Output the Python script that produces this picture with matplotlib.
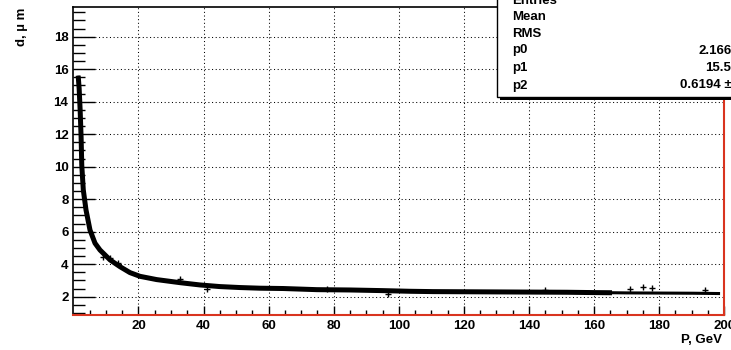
import matplotlib
matplotlib.use("Agg")
import matplotlib.pyplot as plt
from matplotlib.patches import Rectangle
import numpy as np

# ---- data ----
momentum = [1.5, 1.8, 2.1, 2.4, 2.6, 3.07, 3.9, 5.13, 6.67, 8.2, 11.3, 14.3,
            17.4, 20.5, 25.6, 32.8, 38.9, 45.0, 51.2, 57.3, 64.5, 74.8, 85.0,
            95.2, 103.4, 110.5, 120.9, 131.0, 141.3, 151.6, 159.7, 165.5,
            170.0, 180.2, 190.4, 198.7]
mean_d = [15.6, 14.8, 13.5, 11.8, 10.1, 8.57, 7.34, 6.10, 5.29, 4.87, 4.26, 3.85,
          3.48, 3.25, 3.05, 2.86, 2.72, 2.62, 2.56, 2.52, 2.50, 2.43, 2.41,
          2.37, 2.33, 2.31, 2.30, 2.29, 2.28, 2.27, 2.25, 2.24,
          2.23, 2.22, 2.21, 2.19]
band_end = 165.5

point_p = [9.2, 11.3, 13.8, 32.8, 41.0, 96.8, 171.0, 175.1, 177.7, 194.0, 145.0, 78.0]
point_d = [4.45, 4.38, 4.07, 3.07, 2.50, 2.15, 2.46, 2.58, 2.52, 2.41, 2.40, 2.47]

x_major = [20, 40, 60, 80, 100, 120, 140, 160, 180, 200]
y_major = [2, 4, 6, 8, 10, 12, 14, 16, 18]
x_range = (0, 200)
y_range = (0.87, 19.81)

stat_names = ["Entries", "Mean", "RMS", "p0", "p1", "p2"]
stat_values = ["", "", "", "2.166", "15.5", "0.6194 \u00b1"]

x_title = "P, GeV"
y_title = "d, \u00b5 m"

# ---- figure ----
W, H = 731, 350
plt.rcParams['font.family'] = ['Liberation Sans', 'DejaVu Sans']
plt.rcParams['font.weight'] = 'bold'
fig = plt.figure(figsize=(W / 100, H / 100), dpi=100)
fig.patch.set_facecolor('white')

L, R, T, B = 73.3, 724.3, 7.3, 315.0
ax = fig.add_axes([L / W, 1 - B / H, (R - L) / W, (B - T) / H])
ax.set_xlim(*x_range)
ax.set_ylim(*y_range)

FS = 9.5
red = '#d9341f'
for s in ['left', 'top']:
    ax.spines[s].set_color('black')
    ax.spines[s].set_linewidth(1.2)
for s in ['bottom', 'right']:
    ax.spines[s].set_color(red)
    ax.spines[s].set_linewidth(1.5)

ax.set_xticks(x_major)
ax.set_xticks(np.arange(5, 200, 5), minor=True)
ax.set_yticks(y_major)
ax.set_yticks(np.arange(1.0, 19.6, 0.5), minor=True)
ax.tick_params(axis='x', which='major', direction='in', length=6.5, width=1.0,
               color='black', labelsize=FS, pad=3.5)
ax.tick_params(axis='x', which='minor', direction='in', length=3.6, width=1.0,
               color='black')
ax.tick_params(axis='y', which='major', direction='in', length=15.8, width=1.0,
               color='black', labelsize=FS, pad=3.5)
ax.tick_params(axis='y', which='minor', direction='in', length=8.6, width=1.0,
               color='black')
for lab in ax.get_xticklabels() + ax.get_yticklabels():
    lab.set_fontweight('bold')
    lab.set_clip_on(False)

ax.grid(True, which='major', color='black', linestyle=(0, (1, 2.5)), linewidth=0.75)
ax.set_axisbelow(True)

p = np.array(momentum)
d = np.array(mean_d)
ax.plot(p, d, color='black', lw=2.2, solid_capstyle='butt', zorder=3)
m = p <= band_end
ax.plot(p[m], d[m], color='black', lw=3.6, solid_capstyle='butt', zorder=3)
ax.plot(point_p, point_d, linestyle='none', marker='+', color='black',
        markersize=5, markeredgewidth=1.0, zorder=4)

fig.text(22 / W, 1 - 8 / H, y_title, rotation=90, ha='center', va='top',
         fontsize=FS, fontweight='bold')
fig.text(722 / W, 1 - 340 / H, x_title, ha='right', va='center',
         fontsize=FS, fontweight='bold')

# ---- stats box ----
bx0, by_bottom = 497, 97
shadow = Rectangle(((bx0 + 3) / W, 1 - (by_bottom + 2.5) / H), (W + 20 - bx0) / W,
                   (by_bottom + 20) / H, transform=fig.transFigure,
                   facecolor='black', edgecolor='none', zorder=10)
box = Rectangle((bx0 / W, 1 - by_bottom / H), (W + 20 - bx0) / W,
                (by_bottom + 20) / H, transform=fig.transFigure,
                facecolor='white', edgecolor='black', linewidth=1.0, zorder=11)
fig.add_artist(shadow)
fig.add_artist(box)
row_y = [1, 17, 34, 50.5, 68, 85.5]
for name, val, yy in zip(stat_names, stat_values, row_y):
    fig.text(512 / W, 1 - yy / H, name, ha='left', va='center', fontsize=FS,
             fontweight='bold', zorder=12)
    if val:
        fig.text(731.5 / W, 1 - yy / H, val, ha='right', va='center', fontsize=FS,
                 fontweight='bold', zorder=12)

fig.savefig("out.png", dpi=100, facecolor='white')
